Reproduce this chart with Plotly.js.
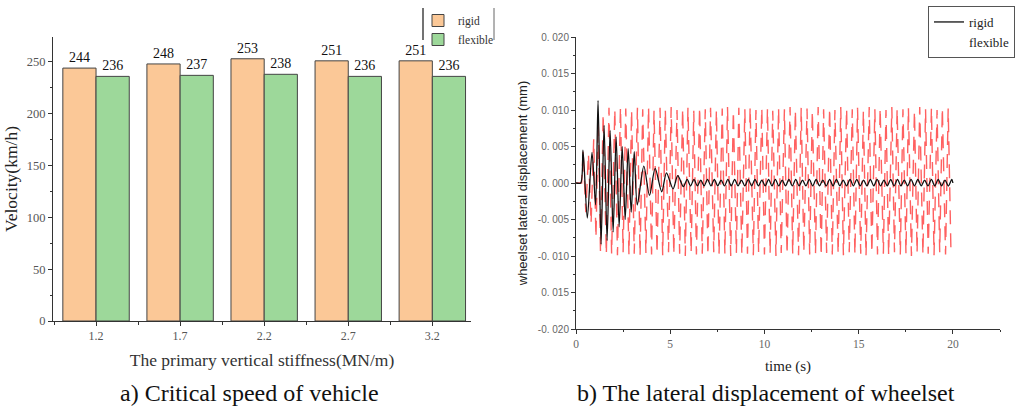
<!DOCTYPE html>
<html>
<head>
<meta charset="utf-8">
<script src="https://cdn.plot.ly/plotly-3.0.1.min.js"></script>
<style>html,body{margin:0;padding:0;background:#fff;}#chart{width:1025px;height:407px;}</style>
</head>
<body>
<div id="chart"></div>
<script>
// ---- Chart a) Critical speed of vehicle ----
const stiffness = [1.2, 1.7, 2.2, 2.7, 3.2];
const rigidSpeed = [244, 248, 253, 251, 251];
const flexibleSpeed = [236, 237, 238, 236, 236];

// ---- Chart b) Lateral displacement of wheelset (extrema read from the picture) ----
const rigidTime = [0, 0.25, 0.37, 0.6, 0.85, 1.04, 1.17, 1.33, 1.49, 1.65, 1.81, 1.97, 2.13, 2.29, 2.45, 2.61, 2.77, 2.93, 3.09, 3.25, 3.6, 3.9, 4.2, 4.55, 4.8, 5.15, 5.4, 5.7,
  5.9, 6.08, 6.26, 6.44, 6.62, 6.8, 6.98, 7.16, 7.34, 7.52, 7.7, 7.88, 8.06, 8.24, 8.42, 8.6, 8.78, 8.96, 9.14, 9.32,
  9.5, 9.68, 9.86, 10.04, 10.22, 10.4, 10.58, 10.76, 10.94, 11.12, 11.3, 11.48, 11.66, 11.84, 12.02, 12.2, 12.38, 12.56,
  12.74, 12.92, 13.1, 13.28, 13.46, 13.64, 13.82, 14, 14.18, 14.36, 14.54, 14.72, 14.9, 15.08, 15.26, 15.44, 15.62, 15.8,
  15.98, 16.16, 16.34, 16.52, 16.7, 16.88, 17.06, 17.24, 17.42, 17.6, 17.78, 17.96, 18.14, 18.32, 18.5, 18.68, 18.86,
  19.04, 19.22, 19.4, 19.58, 19.76, 19.94, 20];
const rigidDisp = [0, 0, 0.0045, -0.0048, 0.0042, -0.0030, 0.0113, -0.0084, 0.0079, -0.0079, 0.0072, -0.0067, 0.0063, -0.0060, 0.0050, -0.0050, 0.0047, -0.0040, 0.0043, -0.0030, 0.0023, -0.0017, 0.0020, -0.0012, 0.0014, -0.0008, 0.0010, -0.0005,
  0.0005, -0.0004, 0.0005, -0.0004, 0.0004, -0.0004, 0.0005, -0.0004, 0.0005, -0.0004, 0.0004, -0.0004, 0.0005, -0.0004, 0.0005, -0.0004, 0.0004, -0.0004, 0.0005, -0.0004,
  0.0005, -0.0004, 0.0004, -0.0004, 0.0005, -0.0004, 0.0005, -0.0004, 0.0004, -0.0004, 0.0005, -0.0004, 0.0005, -0.0004, 0.0004, -0.0004, 0.0005, -0.0004,
  0.0005, -0.0004, 0.0004, -0.0004, 0.0005, -0.0004, 0.0005, -0.0004, 0.0004, -0.0004, 0.0005, -0.0004, 0.0005, -0.0004, 0.0004, -0.0004, 0.0005, -0.0004,
  0.0005, -0.0004, 0.0004, -0.0004, 0.0005, -0.0004, 0.0005, -0.0004, 0.0004, -0.0004, 0.0005, -0.0004, 0.0005, -0.0004, 0.0004, -0.0004, 0.0005,
  -0.0004, 0.0005, -0.0004, 0.0004, -0.0004, 0.0005, 0];

const flexibleTime = [0, 0.3, 0.38, 0.52, 0.66, 0.8, 0.94, 1.06, 1.18,
  1.3, 1.44, 1.61, 1.75, 1.89, 2.06, 2.2, 2.36, 2.5, 2.64,
  2.81, 2.95, 3.09, 3.26, 3.4, 3.54, 3.71, 3.85, 4.01, 4.14,
  4.3, 4.46, 4.6, 4.74, 4.91, 5.05, 5.19, 5.36, 5.5, 5.66,
  5.8, 5.94, 6.11, 6.25, 6.39, 6.56, 6.7, 6.86, 7, 7.14,
  7.31, 7.45, 7.59, 7.76, 7.9, 8.04, 8.21, 8.35, 8.51, 8.64,
  8.8, 8.96, 9.1, 9.24, 9.41, 9.55, 9.69, 9.86, 10, 10.16,
  10.3, 10.44, 10.61, 10.75, 10.89, 11.06, 11.2, 11.36, 11.5, 11.64,
  11.81, 11.95, 12.09, 12.26, 12.4, 12.54, 12.71, 12.85, 13.01, 13.14,
  13.3, 13.46, 13.6, 13.74, 13.91, 14.05, 14.19, 14.36, 14.5, 14.66,
  14.8, 14.94, 15.11, 15.25, 15.39, 15.56, 15.7, 15.86, 16, 16.14,
  16.31, 16.45, 16.59, 16.76, 16.9, 17.04, 17.21, 17.35, 17.51, 17.64,
  17.8, 17.96, 18.1, 18.24, 18.41, 18.55, 18.69, 18.86, 19, 19.16,
  19.3, 19.44, 19.61, 19.75, 19.9];
const flexibleDisp = [0, 0, 0.0045, -0.0040, 0.0040, -0.0055, 0.0060, -0.0075, 0.0085,
  -0.0096, 0.0095, -0.0098, 0.0103, -0.0097, 0.0101, -0.0099, 0.0104, -0.0095, 0.0102,
  -0.0098, 0.0100, -0.0097, 0.0103, -0.0100, 0.0101, -0.0096, 0.0104, -0.0098, 0.0099,
  -0.0097, 0.0103, -0.0099, 0.0101, -0.0095, 0.0104, -0.0098, 0.0100, -0.0097, 0.0102,
  -0.0100, 0.0103, -0.0096, 0.0099, -0.0098, 0.0104, -0.0097, 0.0101, -0.0099, 0.0103,
  -0.0095, 0.0100, -0.0098, 0.0102, -0.0097, 0.0104, -0.0100, 0.0099, -0.0096, 0.0103,
  -0.0098, 0.0101, -0.0097, 0.0104, -0.0099, 0.0100, -0.0095, 0.0103, -0.0098, 0.0102,
  -0.0097, 0.0099, -0.0100, 0.0103, -0.0096, 0.0101, -0.0098, 0.0104, -0.0097, 0.0100,
  -0.0099, 0.0103, -0.0095, 0.0102, -0.0098, 0.0099, -0.0097, 0.0104, -0.0100, 0.0101,
  -0.0096, 0.0103, -0.0098, 0.0100, -0.0097, 0.0104, -0.0099, 0.0102, -0.0095, 0.0101,
  -0.0098, 0.0103, -0.0097, 0.0099, -0.0100, 0.0104, -0.0096, 0.0101, -0.0098, 0.0103,
  -0.0097, 0.0100, -0.0099, 0.0104, -0.0095, 0.0102, -0.0098, 0.0101, -0.0097, 0.0103,
  -0.0100, 0.0099, -0.0096, 0.0104, -0.0098, 0.0101, -0.0097, 0.0103, -0.0099, 0.0100,
  -0.0095, 0.0103, -0.0098, 0.0102, -0.0097];

const dispTickVals = [0.02, 0.015, 0.01, 0.005, 0, -0.005, -0.01, -0.015, -0.02];
const dispTickText = ['0.\u00a0020', '0.\u00a0015', '0.\u00a0010', '0.\u00a0005', '0.\u00a0000', '-0.\u00a0005', '-0.\u00a0010', '0.\u00a0015', '-0.\u00a0020'];

const SERIF = 'Liberation Serif, Times New Roman, serif';
const SANS = 'Liberation Sans, Arial, sans-serif';

const W = 1025, H = 407;
const px = v => v / W;
const py = v => 1 - v / H;

const traces = [
  {
    type: 'bar', x: stiffness, y: rigidSpeed, name: 'rigid', xaxis: 'x', yaxis: 'y', legend: 'legend',
    marker: {color: '#FBC897', line: {color: '#444', width: 1}},
    text: rigidSpeed.map(String), textposition: 'outside', cliponaxis: false,
    textfont: {family: SERIF, size: 14, color: '#111'}
  },
  {
    type: 'bar', x: stiffness, y: flexibleSpeed, name: 'flexible', xaxis: 'x', yaxis: 'y', legend: 'legend',
    marker: {color: '#9DD89A', line: {color: '#444', width: 1}},
    text: flexibleSpeed.map(String), textposition: 'outside', cliponaxis: false,
    textfont: {family: SERIF, size: 14, color: '#111'}
  },
  {
    type: 'scatter', mode: 'lines', x: flexibleTime, y: flexibleDisp, name: 'flexible', xaxis: 'x2', yaxis: 'y2',
    showlegend: false, line: {color: 'rgba(255,10,10,0.65)', width: 1.4, dash: '14px,9px'}
  },
  {
    type: 'scatter', mode: 'lines', x: rigidTime, y: rigidDisp, name: 'rigid', xaxis: 'x2', yaxis: 'y2', legend: 'legend2',
    line: {color: '#111', width: 1.3, shape: 'spline', smoothing: 0.8}
  },
  {
    type: 'scatter', mode: 'lines', x: [null], y: [null], name: 'flexible', xaxis: 'x2', yaxis: 'y2', legend: 'legend2',
    line: {color: 'rgba(0,0,0,0)', width: 1}
  }
];

const axisCommon = {
  showgrid: false, zeroline: false, showline: true, linecolor: '#333', linewidth: 1,
  ticks: 'outside', ticklen: 5, tickcolor: '#333', mirror: false
};

const layout = {
  width: W, height: H,
  margin: {l: 0, r: 0, t: 0, b: 0},
  paper_bgcolor: '#fff', plot_bgcolor: '#fff',
  barmode: 'group', bargap: 0.21, bargroupgap: 0,
  font: {family: SERIF, color: '#222'},
  xaxis: Object.assign({}, axisCommon, {
    domain: [px(53), px(471)], range: [0.944, 3.43], anchor: 'y',
    tickvals: stiffness, ticktext: stiffness.map(v => v.toFixed(1)), ticklen: 4,
    minor: {tickvals: [1.45, 1.95, 2.45, 2.95, 0.95], ticks: 'outside', ticklen: 3, tickcolor: '#333'},
    tickfont: {family: SERIF, size: 12, color: '#555'},
    title: {text: 'The primary vertical stiffness(MN/m)', font: {family: SERIF, size: 17.5, color: '#333'}, standoff: 11}
  }),
  yaxis: Object.assign({}, axisCommon, {
    domain: [1 - 321 / H, 1 - 37 / H], range: [0, 274], anchor: 'x',
    tickvals: [0, 50, 100, 150, 200, 250], ticklen: 4,
    minor: {tickvals: [25, 75, 125, 175, 225], ticks: 'outside', ticklen: 2, tickcolor: '#333'},
    tickfont: {family: SERIF, size: 12.5, color: '#555'},
    title: {text: 'Velocity(km/h)', font: {family: SERIF, size: 17.5, color: '#222'}, standoff: 4}
  }),
  xaxis2: Object.assign({}, axisCommon, {
    domain: [px(576), px(1000)], range: [0, 22.5], anchor: 'y2',
    tickvals: [0, 5, 10, 15, 20], ticklen: 4,
    minor: {tickvals: [2.5, 7.5, 12.5, 17.5, 22.5], ticks: 'outside', ticklen: 2, tickcolor: '#333'},
    tickfont: {family: SERIF, size: 11.5, color: '#666'},
    title: {text: 'time (s)', font: {family: SERIF, size: 15, color: '#222'}, standoff: 11}
  }),
  yaxis2: Object.assign({}, axisCommon, {
    domain: [1 - 329 / H, 1 - 37 / H], range: [-0.02, 0.02], anchor: 'x2',
    tickvals: dispTickVals, ticktext: dispTickText, ticklen: 4,
    minor: {tickvals: [0.0175, 0.0125, 0.0075, 0.0025, -0.0025, -0.0075, -0.0125, -0.0175], ticks: 'outside', ticklen: 2, tickcolor: '#333'},
    tickfont: {family: SANS, size: 10, color: '#666'},
    title: {text: 'wheelset lateral displacement (mm)', font: {family: SANS, size: 13, color: '#222'}, standoff: 7}
  }),
  legend: {
    x: px(418), y: py(6), xanchor: 'left', yanchor: 'top',
    bgcolor: 'rgba(0,0,0,0)', borderwidth: 0,
    font: {family: SERIF, size: 11.5, color: '#333'},
    tracegroupgap: 0, itemclick: false
  },
  legend2: {
    x: px(928), y: py(6), xanchor: 'left', yanchor: 'top',
    bgcolor: '#fff', bordercolor: '#555', borderwidth: 1,
    font: {family: SERIF, size: 13, color: '#222'},
    itemwidth: 30
  },
  shapes: [
    {type: 'line', xref: 'paper', yref: 'paper', x0: px(423), x1: px(423), y0: py(8), y1: py(40), line: {color: '#444', width: 1.5}},
    {type: 'line', xref: 'paper', yref: 'paper', x0: px(494), x1: px(494), y0: py(8), y1: py(40), line: {color: '#666', width: 1}}
  ],
  annotations: [
    {xref: 'paper', yref: 'paper', x: px(249), y: py(393), xanchor: 'center', yanchor: 'middle', showarrow: false,
     text: 'a) Critical speed of vehicle', font: {family: SERIF, size: 24, color: '#111'}},
    {xref: 'paper', yref: 'paper', x: px(766), y: py(393), xanchor: 'center', yanchor: 'middle', showarrow: false,
     text: 'b) The lateral displacement of wheelset', font: {family: SERIF, size: 24, color: '#111'}}
  ]
};

Plotly.newPlot('chart', traces, layout, {staticPlot: true, displayModeBar: false});
</script>
</body>
</html>
